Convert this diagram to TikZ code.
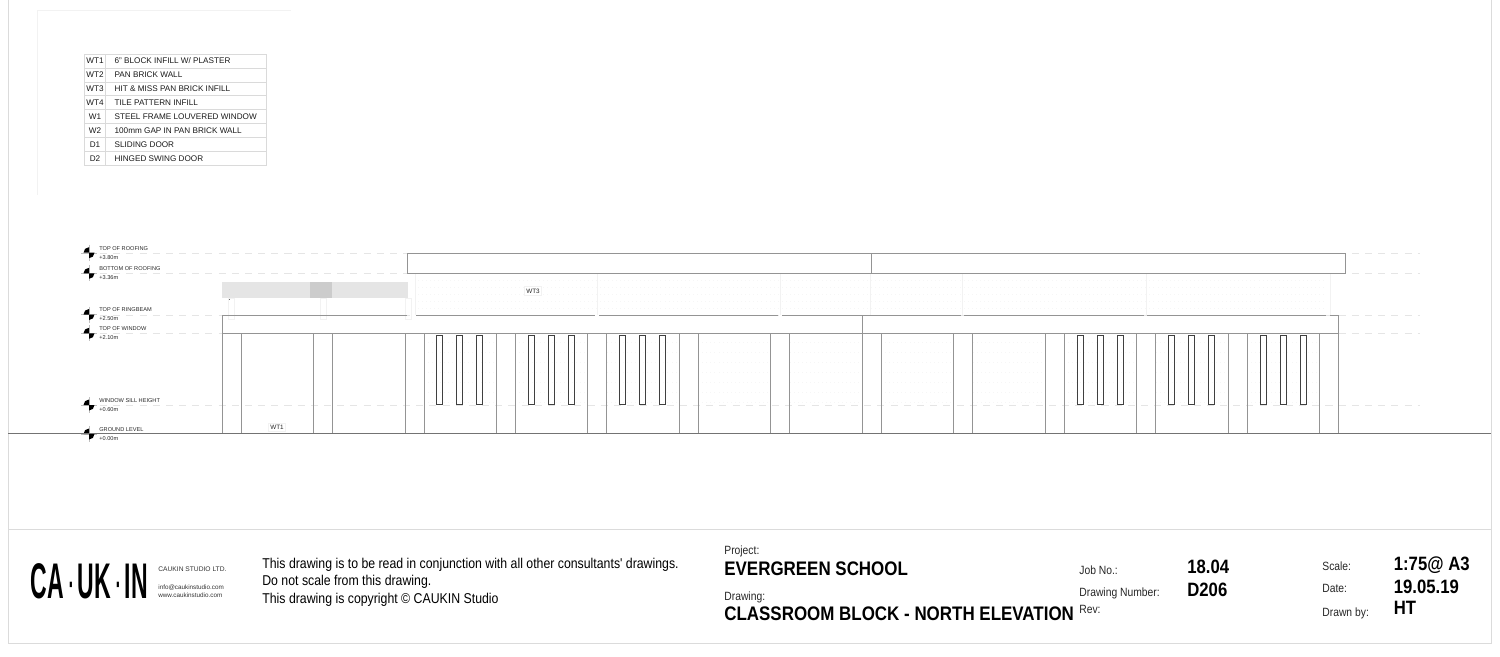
\documentclass[tikz,border=0pt]{standalone}
\usepackage{fontspec}
\setmainfont{Liberation Sans}
\newfontfamily\narrowfont[FakeStretch=.865]{Liberation Sans}
\newfontfamily\logofont[FakeStretch=.46]{Liberation Sans}
\usetikzlibrary{positioning}
\definecolor{sheetgrey}{gray}{.86}
\definecolor{wallgrey}{gray}{.58}
\definecolor{levelgrey}{gray}{.9}
\definecolor{faintgrey}{gray}{.95}
\tikzset{
	txt/.style={anchor=west, inner sep=0pt, text depth=0pt},
	tablecell/.style={txt, font=\fontsize{4.65}{6}\selectfont, text=black!90},
	cellcode/.style={tablecell, anchor=center},
	levelname/.style={txt, font=\fontsize{3.2}{4}\selectfont, text=black!85},
	tag/.style={draw=faintgrey, fill=white, inner sep=1.2pt, font=\fontsize{3.6}{4}\selectfont, text=black!85},
	note/.style={txt, font=\narrowfont\fontsize{8.1}{10}\selectfont},
	small/.style={txt, font=\narrowfont\fontsize{6.8}{8}\selectfont, text=black!85},
	title/.style={txt, font=\narrowfont\bfseries\fontsize{11.15}{13}\selectfont},
	value/.style={txt, font=\narrowfont\bfseries\fontsize{11}{12}\selectfont},
	wall/.style={draw=wallgrey, line width=.45pt},
	level/.style={draw=levelgrey, line width=.3pt, dash pattern=on 4pt off 3.5pt},
	sheet/.style={draw=sheetgrey, line width=.4pt}
}
\begin{document}
\begin{tikzpicture}[x=.02cm,y=-.02cm]
	\useasboundingbox (0,0) rectangle (1500,656);
	\draw[sheet] (8,0) -- (8,643) -- (1491,643) -- (1491,0);
	\draw[sheet] (8,529.5) -- (1491,529.5);
	\draw[faintgrey, line width=.4pt] (291,10) -- (37.5,10) -- (37.5,195);
	% key table
	\draw[faintgrey!90!black, line width=.3pt] (84.5,54) rectangle (266,165.3) (105.5,54) -- (105.5,165.3);
	\foreach \r in {1,...,7}
		\draw[faintgrey!90!black, line width=.3pt] (84.5,54+13.91*\r) -- (266,54+13.91*\r);
	\foreach \code/\desc [count=\r from 0] in {WT1/{6" BLOCK INFILL W/ PLASTER},WT2/PAN BRICK WALL,WT3/HIT \& MISS PAN BRICK INFILL,WT4/TILE PATTERN INFILL,W1/STEEL FRAME LOUVERED WINDOW,W2/100mm GAP IN PAN BRICK WALL,D1/SLIDING DOOR,D2/HINGED SWING DOOR}{
		\node[cellcode] (code\r) at (95,61+13.91*\r) {\code};
		\node[tablecell] (desc\r) at (114.3,61+13.91*\r) {\desc};
	}
	% levels
	\foreach \y in {253,273.5,315,333.3,405}
		\draw[level] (100,\y) -- (1420,\y);
	\foreach \y/\name/\height [count=\i] in {252.7/TOP OF ROOFING/+3.80m,273.3/BOTTOM OF ROOFING/+3.36m,314.5/TOP OF RINGBEAM/+2.50m,333.3/TOP OF WINDOW/+2.10m,405/WINDOW SILL HEIGHT/+0.60m,434/GROUND LEVEL/+0.00m}{
		\draw[black!25, line width=.2pt] (81,\y) -- (97,\y) (89,\y-8) -- (89,\y+8);
		\fill (89,\y) -- (83.5,\y) arc (180:270:5.5) -- cycle;
		\fill (89,\y) -- (94.5,\y) arc (0:90:5.5) -- cycle;
		\node[levelname] (levelname\i) at (99,\y-4.5) {\name};
		\node[levelname] (levelheight\i) at (99,\y+4.5) {\height};
	}
	% hit and miss infill, ghosted
	\fill[black!10] (222,282) rectangle (408,298);
	\fill[black!20] (310,282) rectangle (332,298);
	\fill[black!60] (228.5,298.5) rectangle (230,300);
	\foreach \x in {228,320,405}
		\draw[faintgrey, line width=.3pt] (\x,298) rectangle (\x+6,319);
	\foreach \x in {415,597,780,870,962,1146,1330}
		\draw[faintgrey, line width=.4pt] (\x,274) -- (\x,315);
	\foreach \y in {280,287,294,301,308}
		\draw[faintgrey!70!white, line width=.3pt, dotted] (418,\y) -- (1326,\y);
	\foreach \k in {2,...,11}
		\foreach \y in {342,352,...,402}
			\draw[faintgrey!70!white, line width=.3pt, dotted] (241+91.46*\k,\y) -- (313+91.46*\k,\y);
	% roof
	\draw[wall] (407,253) rectangle (1345,273.5) (871,253) -- (871,273.5);
	% ringbeam and columns
	\draw[wall] (222,333.3) -- (222,315) -- (407,315);
	\foreach \a/\b in {416/595,599/778,782/961,964/1144,1147/1326,1330/1338}
		\draw[wall] (\a,315) -- (\b,315);
	\draw[wall] (1338,315) -- (1338,333.3) (862,315) -- (862,333.3) (222,333.3) -- (1338,333.3);
	\foreach \k in {0,...,12}
		\draw[wall] (222+91.46*\k,333.3) -- (222+91.46*\k,433.5) (241+91.46*\k,333.3) -- (241+91.46*\k,433.5);
	% louvred windows
	\foreach \k in {2,3,4,9,10,11}
		\foreach \w in {32,52,72}
			\draw[black!75, line width=.5pt] (222+91.46*\k+\w,335) rectangle (222+91.46*\k+\w+6,404.5);
	\draw[black!55, line width=.4pt] (8,433.5) -- (1491,433.5);
	\node[tag] (tagthree) at (533,291) {WT3};
	\node[tag] (tagone) at (277,427.5) {WT1};
	% title block
	\node[txt, font=\logofont\fontsize{28.5}{30}\selectfont] (logo) at (30.5,581) {\textbf{CA}\hspace{1.7pt}·\hspace{1.7pt}\textbf{UK}\hspace{1.7pt}·\hspace{1.7pt}\textbf{IN}};
	\node[txt, font=\fontsize{3.8}{5}\selectfont, text=black!80] (studio) at (158,569) {CAUKIN STUDIO LTD.};
	\node[txt, font=\fontsize{3.6}{5}\selectfont, text=black!80] (mail) at (158,587) {info@caukinstudio.com};
	\node[txt, font=\fontsize{3.6}{5}\selectfont, text=black!80] (web) at (158,595) {www.caukinstudio.com};
	\node[note] (noteone) at (262,563) {This drawing is to be read in conjunction with all other consultants' drawings.};
	\node[note] (notetwo) at (262,580.5) {Do not scale from this drawing.};
	\node[note] (notethree) at (262,598) {This drawing is copyright © CAUKIN Studio};
	\node[small] (projectlabel) at (724,550) {Project:};
	\node[title] (project) at (724,568.5) {EVERGREEN SCHOOL};
	\node[small] (drawinglabel) at (724,596) {Drawing:};
	\node[title] (drawing) at (724,613.5) {CLASSROOM BLOCK - NORTH ELEVATION};
	\node[small] (joblabel) at (1079,570) {Job No.:};
	\node[small] (numberlabel) at (1079,592.5) {Drawing Number:};
	\node[small] (revlabel) at (1079,609) {Rev:};
	\node[value] (job) at (1187,567) {18.04};
	\node[value] (number) at (1187,589.5) {D206};
	\node[small] (scalelabel) at (1322,566) {Scale:};
	\node[small] (datelabel) at (1322,588.5) {Date:};
	\node[small] (bylabel) at (1322,612) {Drawn by:};
	\node[value] (scale) at (1393.5,563.5) {1:75@ A3};
	\node[value] (date) at (1393.5,586.5) {19.05.19};
	\node[value] (by) at (1393.5,608) {HT};
\end{tikzpicture}
\end{document}
